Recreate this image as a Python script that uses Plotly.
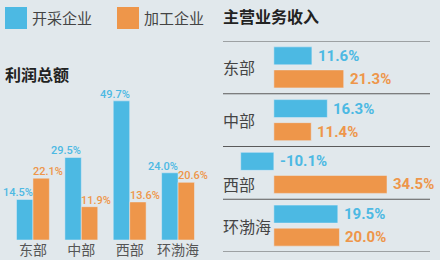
import plotly.graph_objects as go

series_names = ["开采企业", "加工企业"]
regions = ["东部", "中部", "西部", "环渤海"]
profit_mining = [14.5, 29.5, 49.7, 24.0]
profit_processing = [22.1, 11.9, 13.6, 20.6]
revenue_mining = [11.6, 16.3, -10.1, 19.5]
revenue_processing = [21.3, 11.4, 34.5, 20.0]
title_left = "利润总额"
title_right = "主营业务收入"

BLUE = "#4cb9e3"
ORANGE = "#ee964a"
BG = "#e1e8ec"
NUM_FONT = "Roboto, Noto Sans CJK SC, sans-serif"
CJK_FONT = "Noto Sans CJK SC, sans-serif"

fig = go.Figure()

# Left: grouped vertical bars
fig.add_trace(go.Bar(x=regions, y=profit_mining, marker_color=BLUE, name=series_names[0],
                     xaxis="x", yaxis="y", showlegend=False))
fig.add_trace(go.Bar(x=regions, y=profit_processing, marker_color=ORANGE, name=series_names[1],
                     xaxis="x", yaxis="y", showlegend=False))

annotations = []
for i, r in enumerate(regions):
    annotations.append(dict(x=r, y=profit_mining[i], xref="x", yref="y", text=f"{profit_mining[i]:.1f}%",
                            showarrow=False, xanchor="center", yanchor="bottom", xshift=-15, yshift=-2,
                            font=dict(family=NUM_FONT, size=11, color=BLUE, weight=500)))
    annotations.append(dict(x=r, y=profit_processing[i], xref="x", yref="y", text=f"{profit_processing[i]:.1f}%",
                            showarrow=False, xanchor="center", yanchor="bottom", xshift=15, yshift=-2,
                            font=dict(family=NUM_FONT, size=11, color=ORANGE, weight=500)))

# Right: horizontal bars
W = 0.341
fig.add_trace(go.Bar(y=regions, x=revenue_mining, orientation="h", marker_color=BLUE,
                     width=W, offset=-0.389, xaxis="x2", yaxis="y2", showlegend=False))
fig.add_trace(go.Bar(y=regions, x=revenue_processing, orientation="h", marker_color=ORANGE,
                     width=W, offset=0.048, xaxis="x2", yaxis="y2", showlegend=False))

row_px = 52.75
for i, r in enumerate(regions):
    annotations.append(dict(x=max(revenue_mining[i], 0), y=r, xref="x2", yref="y2",
                            text=f"{revenue_mining[i]:.1f}%", showarrow=False, xanchor="left",
                            yanchor="middle", xshift=4, yshift=0.218 * row_px,
                            font=dict(family=NUM_FONT, size=15, color=BLUE, weight="bold")))
    annotations.append(dict(x=max(revenue_processing[i], 0), y=r, xref="x2", yref="y2",
                            text=f"{revenue_processing[i]:.1f}%", showarrow=False, xanchor="left",
                            yanchor="middle", xshift=4, yshift=-0.218 * row_px,
                            font=dict(family=NUM_FONT, size=15, color=ORANGE, weight="bold")))
    # category label; moved to orange row when blue bar extends left
    ys = -0.218 * row_px if revenue_mining[i] < 0 else 0
    annotations.append(dict(x=0, y=r, xref="x2 domain", yref="y2", text=r, showarrow=False,
                            xanchor="left", yanchor="middle", xshift=-2, yshift=ys,
                            font=dict(family=CJK_FONT, size=16, color="#444444")))

shapes = []
for k in range(len(regions) + 1):
    shapes.append(dict(type="line", xref="x2 domain", yref="y2", x0=0, x1=1, y0=k - 0.5, y1=k - 0.5,
                       line=dict(color="#5a5a5a", width=1.2)))

# Legend (manual)
leg_colors = [BLUE, ORANGE]
leg_x = [5, 117]
for j, name in enumerate(series_names):
    x0 = leg_x[j]
    shapes.append(dict(type="rect", xref="paper", yref="paper", x0=x0 / 440, x1=(x0 + 22) / 440,
                       y0=1 - 29 / 260, y1=1 - 7 / 260, fillcolor=leg_colors[j], line=dict(width=0)))
    annotations.append(dict(x=(x0 + 25) / 440, y=1 - 18 / 260, xref="paper", yref="paper", text=name,
                            showarrow=False, xanchor="left", yanchor="middle",
                            font=dict(family=CJK_FONT, size=15, color="#444444")))

annotations.append(dict(x=3 / 440, y=1 - 74 / 260, xref="paper", yref="paper", text=f"<b>{title_left}</b>",
                        showarrow=False, xanchor="left", yanchor="middle",
                        font=dict(family=CJK_FONT, size=16, color="#222222")))
annotations.append(dict(x=221 / 440, y=1 - 16 / 260, xref="paper", yref="paper", text=f"<b>{title_right}</b>",
                        showarrow=False, xanchor="left", yanchor="middle",
                        font=dict(family=CJK_FONT, size=16, color="#222222")))

fig.update_layout(
    width=440, height=260,
    margin=dict(l=0, r=0, t=0, b=0),
    paper_bgcolor=BG, plot_bgcolor=BG,
    barmode="group", bargap=0.32, bargroupgap=0,
    showlegend=False,
    xaxis=dict(domain=[8.75 / 440, 202.25 / 440], range=[-0.5, len(regions) - 0.5],
               showgrid=False, zeroline=False, showline=False,
               ticks="", tickfont=dict(family=CJK_FONT, size=14, color="#555555")),
    yaxis=dict(domain=[20 / 260, 200 / 260], range=[0, 64.3], visible=False),
    xaxis2=dict(domain=[223 / 440, 430 / 440], range=[-15.5, 47.6], visible=False),
    yaxis2=dict(domain=[8 / 260, 219 / 260], range=[3.5, -0.5], visible=False, anchor="x2"),
    annotations=annotations,
    shapes=shapes,
)

fig.write_html("out.html")
